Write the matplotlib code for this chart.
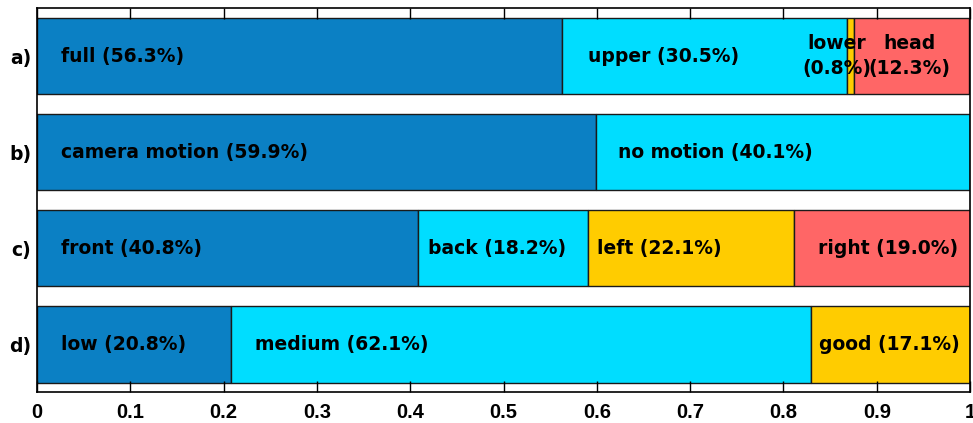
import matplotlib.pyplot as plt
import numpy as np

plt.rcParams['font.family'] = ['DejaVu Sans']

rows = ['a)', 'b)', 'c)', 'd)']
names = [
    ['full', 'upper', 'lower', 'head'],
    ['camera motion', 'no motion'],
    ['front', 'back', 'left', 'right'],
    ['low', 'medium', 'good'],
]
shares = [
    [56.3, 30.5, 0.8, 12.3],
    [59.9, 40.1],
    [40.8, 18.2, 22.1, 19.0],
    [20.8, 62.1, 17.1],
]
xticks = [0, 0.1, 0.2, 0.3, 0.4, 0.5, 0.6, 0.7, 0.8, 0.9, 1.0]
xticklabels = ['0', '0.1', '0.2', '0.3', '0.4', '0.5', '0.6', '0.7', '0.8', '0.9', '1']

colors = ['#0b80c4', '#00ddff', '#ffcc00', '#ff6666']
# label offset from the segment start (fraction of axis), per row / segment
offsets = [
    [0.026, 0.028, None, None],
    [0.026, 0.024],
    [0.026, 0.011, 0.01, 0.026],
    [0.026, 0.026, 0.009],
]
fs = 13.5

fig = plt.figure(figsize=(9.73, 4.23), dpi=100)
ax = fig.add_axes([0.038, 0.073, 0.959, 0.908])

for i, (labs, vals) in enumerate(zip(names, shares)):
    left = 0.0
    for j, (lab, v) in enumerate(zip(labs, vals)):
        w = v / 100.0
        ax.barh(i, w, left=left, height=0.8, color=colors[j],
                edgecolor='#1a1a1a', linewidth=1.0)
        if offsets[i][j] is not None:
            ax.text(left + offsets[i][j], i, f'{lab} ({v:.1f}%)',
                    ha='left', va='center', fontsize=fs, fontweight='bold')
        left += w

# tiny segments in row a) get two-line labels
x_lower = (shares[0][0] + shares[0][1] + shares[0][2] / 2) / 100.0
x_head = (shares[0][0] + shares[0][1] + shares[0][2] + shares[0][3] / 2) / 100.0
ax.text(x_lower - 0.0145, 0, f'{names[0][2]}\n({shares[0][2]:.1f}%)', ha='center',
        va='center', fontsize=fs, fontweight='bold', linespacing=1.35)
ax.text(x_head - 0.0025, 0, f'{names[0][3]}\n({shares[0][3]:.1f}%)', ha='center',
        va='center', fontsize=fs, fontweight='bold', linespacing=1.35)

ax.set_xlim(0, 1)
ax.set_ylim(3.5, -0.5)
ax.set_yticks(range(len(rows)))
ax.set_yticklabels(rows, fontsize=fs, fontweight='bold')
ax.tick_params(axis='y', length=0, pad=4)
ax.set_xticks(xticks)
ax.set_xticklabels(xticklabels, fontsize=14.5, fontweight='bold',
                   family=['Liberation Sans Narrow', 'Liberation Sans'])
ax.tick_params(axis='x', direction='in', length=8, top=True, width=1, pad=8)
for s in ax.spines.values():
    s.set_linewidth(1.2)

fig.savefig('out.png', dpi=100)
